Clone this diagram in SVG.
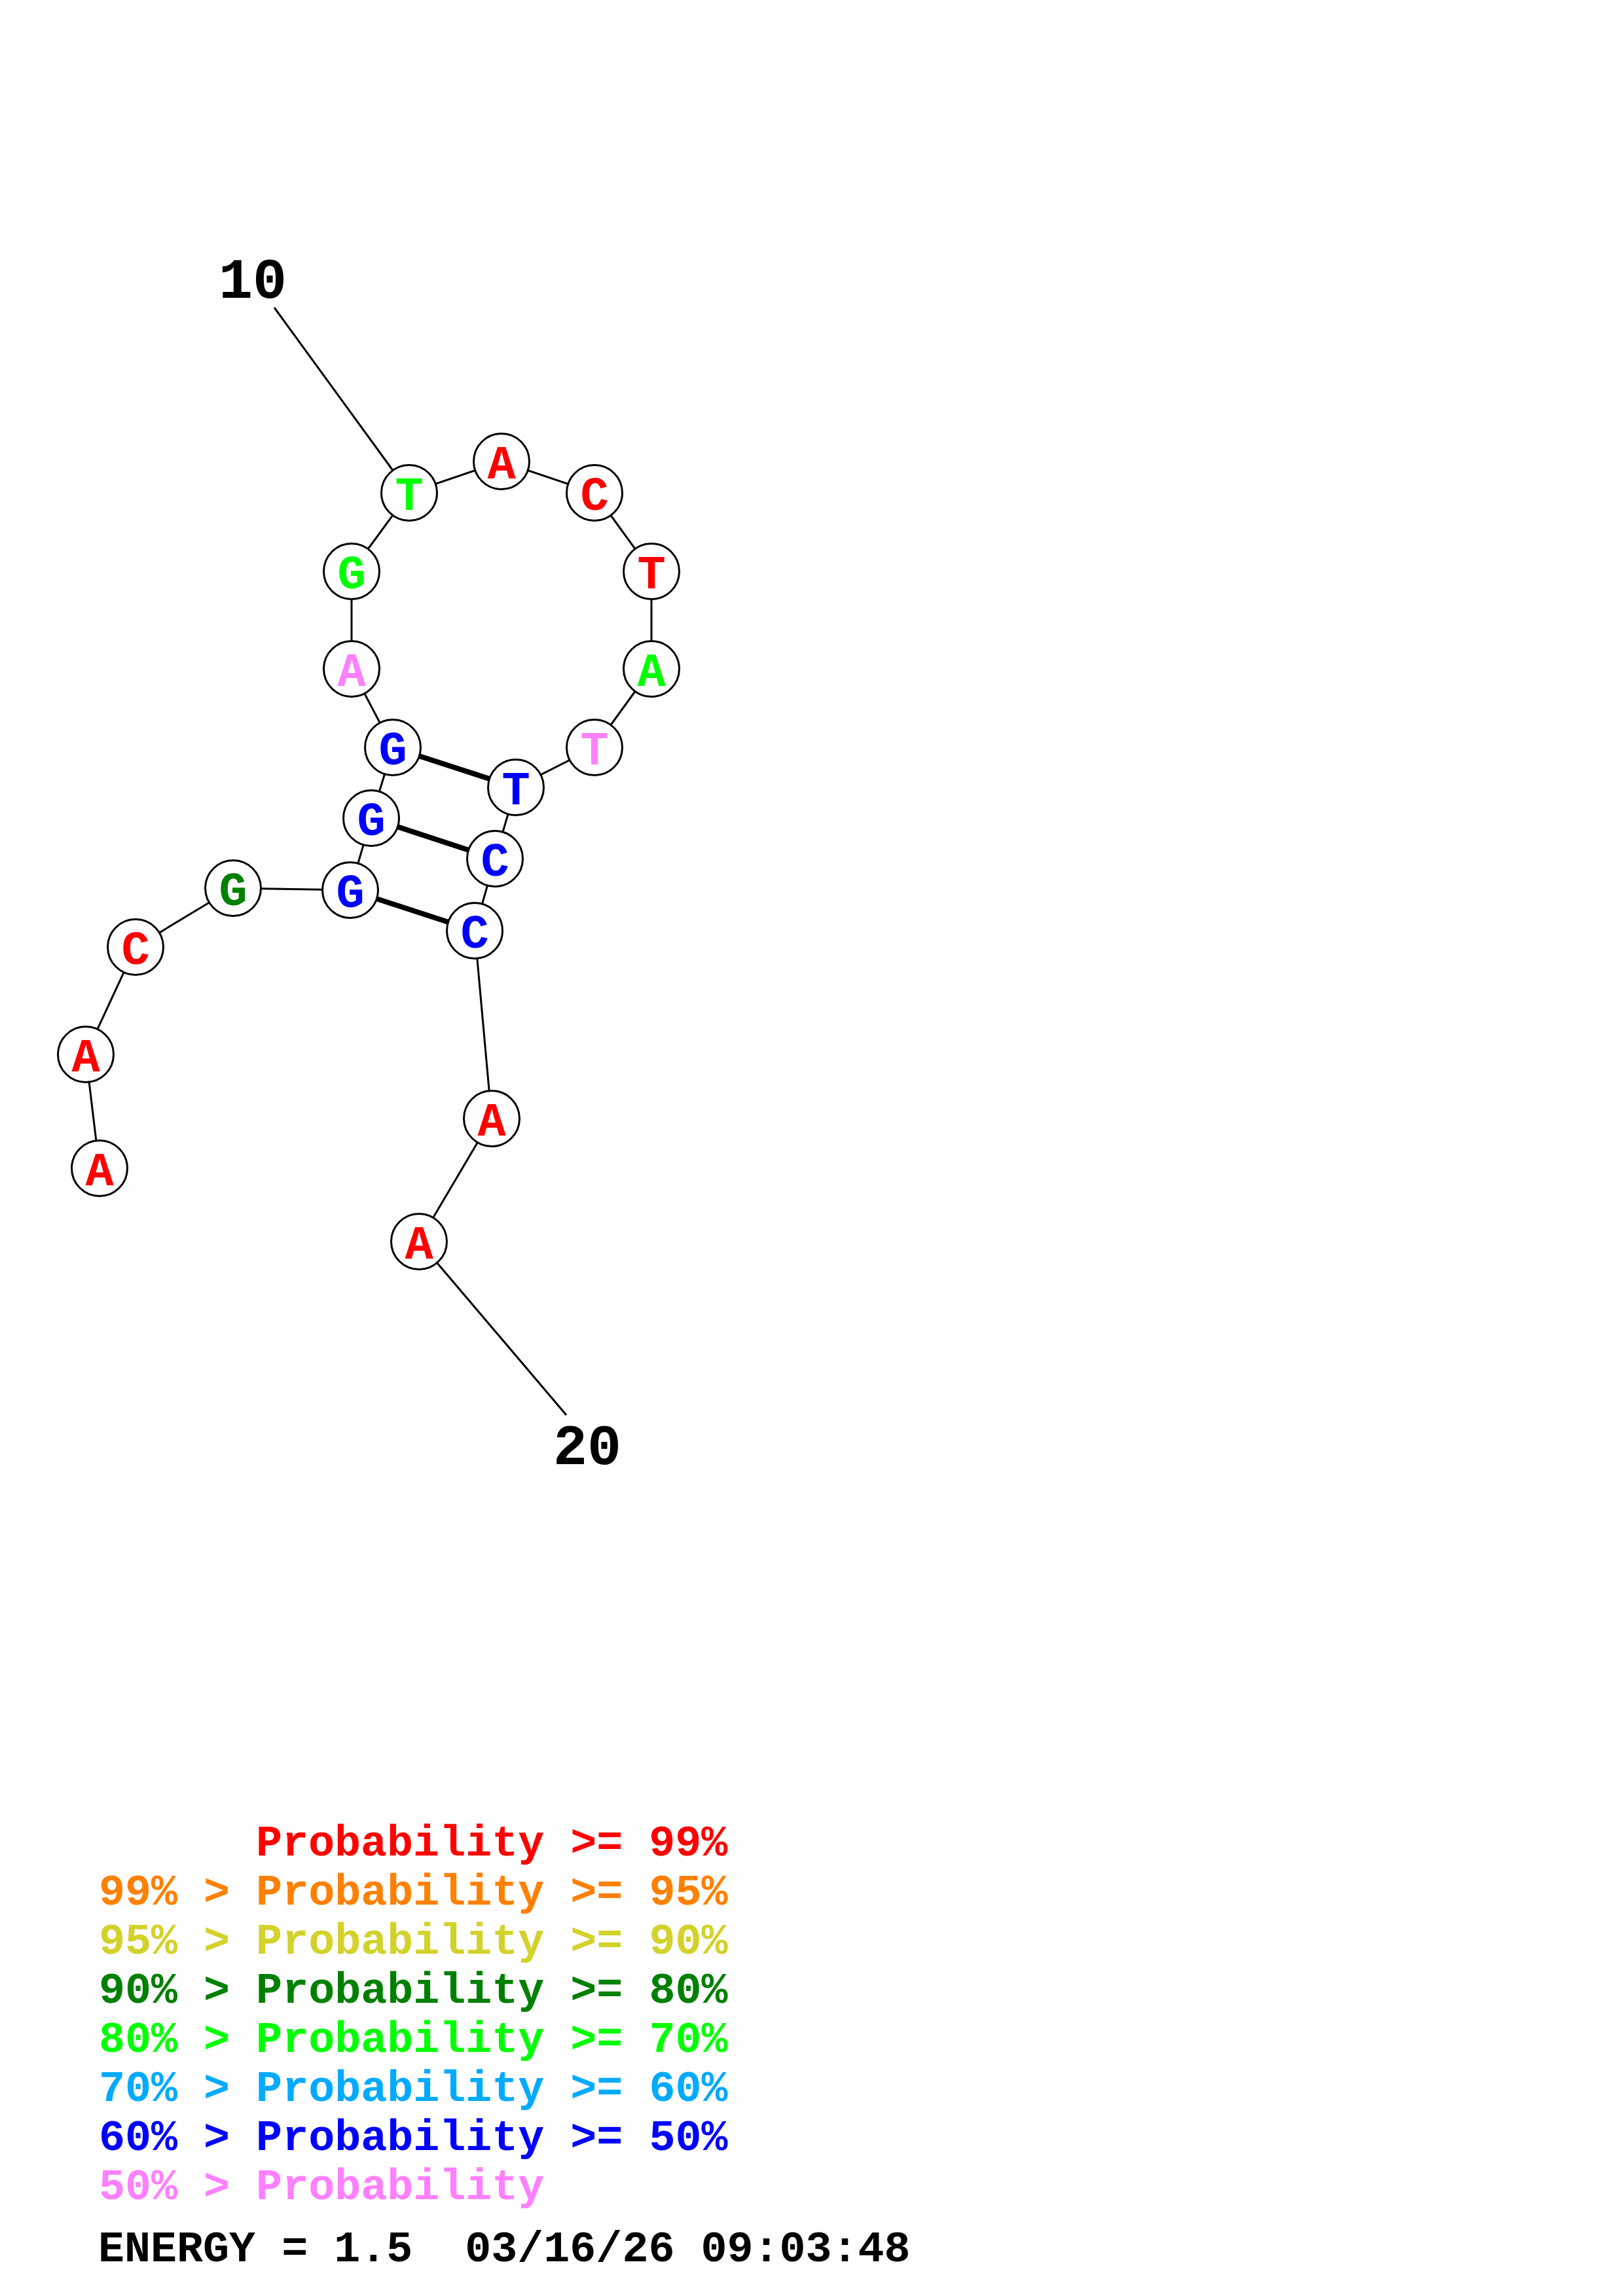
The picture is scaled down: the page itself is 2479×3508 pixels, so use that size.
<svg xmlns="http://www.w3.org/2000/svg" width="2479" height="3508" viewBox="0 0 2479 3508">
<style>
.bb{stroke:#000;stroke-width:3;fill:none}
.bp{stroke:#000;stroke-width:8;fill:none}
.nc{fill:#fff;stroke:#000;stroke-width:3}
.nt{font-family:"Liberation Mono","DejaVu Sans Mono",monospace;font-weight:bold;font-size:72px;text-anchor:middle}
.num{font-family:"Liberation Mono","DejaVu Sans Mono",monospace;font-weight:bold;font-size:86.7px;text-anchor:middle;fill:#000}
.lg{font-family:"Liberation Mono","DejaVu Sans Mono",monospace;font-weight:bold;font-size:66.7px;white-space:pre}
.r{fill:#FF0000}.o{fill:#FF8000}.y{fill:#D2D22A}.dg{fill:#008000}.g{fill:#00FF00}.lb{fill:#00AAFF}.b{fill:#0000FF}.p{fill:#FF80FF}.k{fill:#000}
</style>
<rect width="2479" height="3508" fill="#fff"/>
<g id="connectors">
<line class="bb" x1="419" y1="470" x2="625" y2="753"/>
<line class="bb" x1="640" y1="1897" x2="865" y2="2162"/>
<polyline class="bb" points="152,1785 131,1611 207,1447 356,1357 535,1360 567,1250 600,1142 537,1022 537,873 625,753 766,705 908,753 995,873 995,1022 908,1142 788,1203 756,1312 725,1422 751,1709 640,1897"/>
<line class="bp" x1="535" y1="1360" x2="725" y2="1422"/>
<line class="bp" x1="567" y1="1250" x2="756" y2="1312"/>
<line class="bp" x1="600" y1="1142" x2="788" y2="1203"/>
</g>
<g id="n1"><circle class="nc" cx="152" cy="1785" r="42.5"/><text class="nt r" x="152" y="1811">A</text></g>
<g id="n2"><circle class="nc" cx="131" cy="1611" r="42.5"/><text class="nt r" x="131" y="1637">A</text></g>
<g id="n3"><circle class="nc" cx="207" cy="1447" r="42.5"/><text class="nt r" x="207" y="1473">C</text></g>
<g id="n4"><circle class="nc" cx="356" cy="1357" r="42.5"/><text class="nt dg" x="356" y="1383">G</text></g>
<g id="n5"><circle class="nc" cx="535" cy="1360" r="42.5"/><text class="nt b" x="535" y="1386">G</text></g>
<g id="n6"><circle class="nc" cx="567" cy="1250" r="42.5"/><text class="nt b" x="567" y="1276">G</text></g>
<g id="n7"><circle class="nc" cx="600" cy="1142" r="42.5"/><text class="nt b" x="600" y="1168">G</text></g>
<g id="n8"><circle class="nc" cx="537" cy="1022" r="42.5"/><text class="nt p" x="537" y="1048">A</text></g>
<g id="n9"><circle class="nc" cx="537" cy="873" r="42.5"/><text class="nt g" x="537" y="899">G</text></g>
<g id="n10"><circle class="nc" cx="625" cy="753" r="42.5"/><text class="nt g" x="625" y="779">T</text></g>
<g id="n11"><circle class="nc" cx="766" cy="705" r="42.5"/><text class="nt r" x="766" y="731">A</text></g>
<g id="n12"><circle class="nc" cx="908" cy="753" r="42.5"/><text class="nt r" x="908" y="779">C</text></g>
<g id="n13"><circle class="nc" cx="995" cy="873" r="42.5"/><text class="nt r" x="995" y="899">T</text></g>
<g id="n14"><circle class="nc" cx="995" cy="1022" r="42.5"/><text class="nt g" x="995" y="1048">A</text></g>
<g id="n15"><circle class="nc" cx="908" cy="1142" r="42.5"/><text class="nt p" x="908" y="1168">T</text></g>
<g id="n16"><circle class="nc" cx="788" cy="1203" r="42.5"/><text class="nt b" x="788" y="1229">T</text></g>
<g id="n17"><circle class="nc" cx="756" cy="1312" r="42.5"/><text class="nt b" x="756" y="1338">C</text></g>
<g id="n18"><circle class="nc" cx="725" cy="1422" r="42.5"/><text class="nt b" x="725" y="1448">C</text></g>
<g id="n19"><circle class="nc" cx="751" cy="1709" r="42.5"/><text class="nt r" x="751" y="1735">A</text></g>
<g id="n20"><circle class="nc" cx="640" cy="1897" r="42.5"/><text class="nt r" x="640" y="1923">A</text></g>
<g id="labels">
<text class="num" x="386" y="455">10</text>
<text class="num" x="897" y="2237">20</text>
</g>
<g id="legend">
<text class="lg r" x="391" y="2835">Probability &gt;= 99%</text>
<text class="lg o" x="151" y="2910">99% &gt; Probability &gt;= 95%</text>
<text class="lg y" x="151" y="2985">95% &gt; Probability &gt;= 90%</text>
<text class="lg dg" x="151" y="3060">90% &gt; Probability &gt;= 80%</text>
<text class="lg g" x="151" y="3135">80% &gt; Probability &gt;= 70%</text>
<text class="lg lb" x="151" y="3210">70% &gt; Probability &gt;= 60%</text>
<text class="lg b" x="151" y="3285">60% &gt; Probability &gt;= 50%</text>
<text class="lg p" x="151" y="3360">50% &gt; Probability</text>
<text class="lg k" x="150" y="3455">ENERGY = 1.5  03/16/26 09:03:48</text>
</g>
</svg>
